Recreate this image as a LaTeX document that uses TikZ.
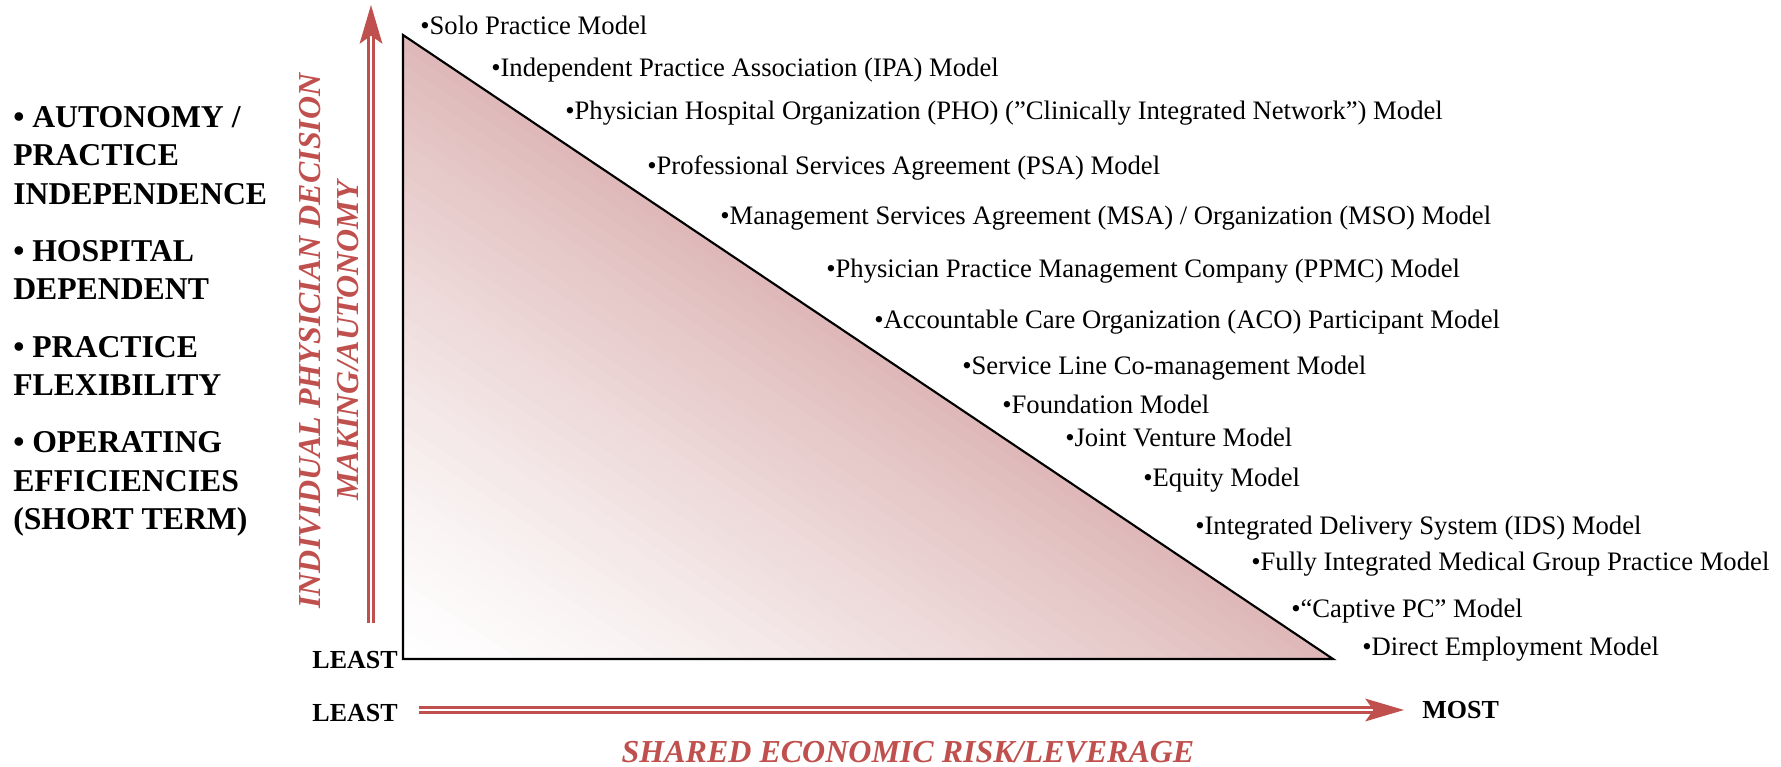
\documentclass[tikz,border=0pt]{standalone}
\usepackage{fontspec}
\setmainfont{Liberation Serif}
\usetikzlibrary{arrows.meta}
\definecolor{axisred}{RGB}{192,80,77}
\definecolor{wedgepink}{RGB}{222,184,184}

\begin{document}
\begin{tikzpicture}[x=0.75pt,y=0.75pt,
  model/.style={anchor=base west, inner sep=0pt, font=\fontsize{20}{22}\selectfont},
  factor/.style={anchor=base west, inner sep=0pt, font=\fontsize{23.8}{28}\selectfont\bfseries},
  scalelabel/.style={inner sep=0pt, font=\fontsize{19.5}{22}\selectfont\bfseries},
  axistitle/.style={anchor=base, inner sep=0pt, text=axisred, font=\fontsize{24}{28}\selectfont\bfseries\itshape},
  axisarrow/.style={draw=axisred, line width=1.9pt, double=white, double distance=1.9pt, -{Stealth[length=29pt, width=17pt, inset=6pt]}}]

\useasboundingbox (0,0) rectangle (1781,767);

%Triangle corners
\coordinate (apex) at (403,732);
\coordinate (origin) at (403,108);
\coordinate (far) at (1333,108);

%Shading: strips parallel to the long side
\begin{scope}
\clip (apex) -- (origin) -- (far) -- cycle;
\begin{scope}[shift={(origin)}, rotate=-33.9]
\foreach \k in {0,...,39}{
  \pgfmathsetmacro\mix{100*((\k+0.5)/40)^1.3}
  \fill[wedgepink!\mix!white] (-900,\k*13) rectangle (900,\k*13+14);
}
\end{scope}
\end{scope}
\draw[line width=1.6pt, line join=miter] (apex) -- (origin) -- (far) -- cycle;

%Axes
\coordinate (yfoot) at (371,144);
\coordinate (ytip) at (371,762);
\coordinate (xfoot) at (419,57);
\coordinate (xtip) at (1404,57);
\draw[axisarrow] (yfoot) -- (ytip);
\draw[axisarrow] (xfoot) -- (xtip);

\node[axistitle, rotate=90] (ytitlea) at (320,426) {INDIVIDUAL PHYSICIAN DECISION};
\node[axistitle, rotate=90] (ytitleb) at (358,426) {MAKING/AUTONOMY};
\node[axistitle] (xtitle) at (908,4) {SHARED ECONOMIC RISK/LEVERAGE};

\node[scalelabel, anchor=base east] (yleast) at (398,98) {LEAST};
\node[scalelabel, anchor=base east] (xleast) at (398,45) {LEAST};
\node[scalelabel, anchor=base west] (xmost) at (1422,48) {MOST};

%Left column
\foreach \yy/\t [count=\i] in {639/{• AUTONOMY /}, 601/{PRACTICE}, 562/{INDEPENDENCE},
  505/{• HOSPITAL}, 467/{DEPENDENT}, 409/{• PRACTICE}, 371/{FLEXIBILITY},
  314/{• OPERATING}, 275/{EFFICIENCIES}, 237/{(SHORT TERM)}}
  \node[factor] (factor\i) at (13,\yy) {\t};

%Models along the long side
\foreach \xx/\yy/\t [count=\i] in {
  420/732/{Solo Practice Model},
  491/690/{Independent Practice Association (IPA) Model},
  565/647/{Physician Hospital Organization (PHO) (”Clinically Integrated Network”) Model},
  647/592/{Professional Services Agreement (PSA) Model},
  720/542/{Management Services Agreement (MSA) / Organization (MSO) Model},
  826/489/{Physician Practice Management Company (PPMC) Model},
  874/438/{Accountable Care Organization (ACO) Participant Model},
  962/392/{Service Line Co-management Model},
  1002/353/{Foundation Model},
  1065/320/{Joint Venture Model},
  1143/280/{Equity Model},
  1195/232/{Integrated Delivery System (IDS) Model},
  1251/196/{Fully Integrated Medical Group Practice Model},
  1291/149/{“Captive PC” Model},
  1362/111/{Direct Employment Model}}
  \node[model] (model\i) at (\xx,\yy) {•\t};

\end{tikzpicture}
\end{document}
